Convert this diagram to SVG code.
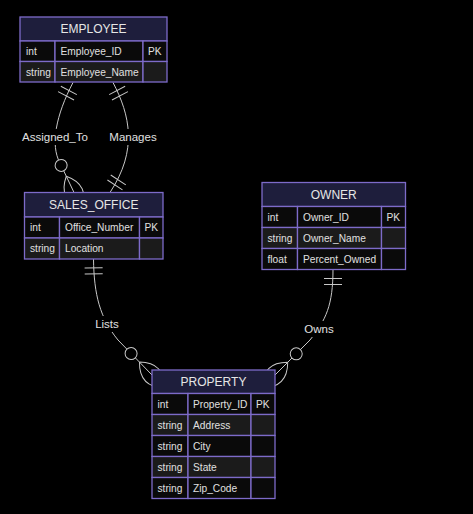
<svg xmlns="http://www.w3.org/2000/svg" width="473" height="514" viewBox="0 0 473 514">
<defs>
<style>
.bg{fill:#000}
.hdr{fill:#1e1e3c;stroke:#7d6bc9;stroke-width:1.3}
.odd{fill:#0a0a0a;stroke:#7d6bc9;stroke-width:1.3}
.even{fill:#1b1b1b;stroke:#7d6bc9;stroke-width:1.3}
.ht{font-family:"Liberation Sans",Arial,sans-serif;font-size:12px;fill:#e6e6e6;text-anchor:middle}
.rt{font-family:"Liberation Sans",Arial,sans-serif;font-size:10.2px;fill:#e0e0e0}
.edge{fill:none;stroke:#c8c8c8;stroke-width:1}
.mk{fill:none;stroke:#c8c8c8;stroke-width:1}
.mkc{fill:#000;stroke:#c8c8c8;stroke-width:1}
.lbl{font-family:"Liberation Sans",Arial,sans-serif;font-size:11.5px;fill:#e0e0e0;text-anchor:middle}
</style>
<marker id="oneStart" markerUnits="userSpaceOnUse" refX="0" refY="9" markerWidth="18" markerHeight="18" orient="auto" overflow="visible">
<path class="mk" d="M9,0 L9,18 M15,0 L15,18"/>
</marker>
<marker id="oneEnd" markerUnits="userSpaceOnUse" refX="18" refY="9" markerWidth="18" markerHeight="18" orient="auto" overflow="visible">
<path class="mk" d="M3,0 L3,18 M9,0 L9,18"/>
</marker>
<marker id="zeroManyEnd" markerUnits="userSpaceOnUse" refX="39" refY="18" markerWidth="57" markerHeight="36" orient="auto" overflow="visible">
<circle class="mkc" cx="9" cy="18" r="6"/>
<path class="mk" d="M21,18 Q39,0 57,18 Q39,36 21,18"/>
</marker>
</defs>
<rect class="bg" x="0" y="0" width="473" height="514"/>
<g id="connectors">
<path id="e-assigned" class="edge" d="M73,82.5 C56,115 50,145 60,163 L74,192.5" marker-start="url(#oneStart)" marker-end="url(#zeroManyEnd)"/>
<path id="e-manages" class="edge" d="M113,82.5 C130,115 138,150 110,192.5" marker-start="url(#oneStart)" marker-end="url(#oneEnd)"/>
<path id="e-lists" class="edge" d="M93.5,259 C94,295 100,318 118,340 L152,375" marker-start="url(#oneStart)" marker-end="url(#zeroManyEnd)"/>
<path id="e-owns" class="edge" d="M333,269.5 C333,305 326,320 310,340 L275,375" marker-start="url(#oneStart)" marker-end="url(#zeroManyEnd)"/>
<g id="labels">
<rect class="bg" x="20" y="129" width="70" height="16"/>
<text class="lbl" x="55" y="141">Assigned_To</text>
<rect class="bg" x="108" y="129" width="50" height="16"/>
<text class="lbl" x="133" y="141">Manages</text>
<rect class="bg" x="93" y="316" width="28" height="16"/>
<text class="lbl" x="107" y="328">Lists</text>
<rect class="bg" x="303" y="321" width="32" height="16"/>
<text class="lbl" x="319" y="333">Owns</text>
</g>
</g>
<g id="EMPLOYEE">
<rect class="hdr" x="20" y="17" width="147" height="24"/>
<text class="ht" x="93.5" y="33.2">EMPLOYEE</text>
<rect class="odd" x="20" y="41" width="35" height="20.5"/>
<rect class="odd" x="55" y="41" width="88" height="20.5"/>
<rect class="odd" x="143" y="41" width="24" height="20.5"/>
<rect class="even" x="20" y="61.5" width="35" height="20.5"/>
<rect class="even" x="55" y="61.5" width="88" height="20.5"/>
<rect class="even" x="143" y="61.5" width="24" height="20.5"/>
<text class="rt" x="26" y="55">int</text>
<text class="rt" x="60.5" y="55">Employee_ID</text>
<text class="rt" x="148" y="55">PK</text>
<text class="rt" x="26" y="75.5">string</text>
<text class="rt" x="60.5" y="75.5">Employee_Name</text>
</g>
<g id="SALES_OFFICE">
<rect class="hdr" x="24.5" y="192.5" width="138.5" height="24.5"/>
<text class="ht" x="93.75" y="209">SALES_OFFICE</text>
<rect class="odd" x="24.5" y="217" width="35" height="21"/>
<rect class="odd" x="59.5" y="217" width="80" height="21"/>
<rect class="odd" x="139.5" y="217" width="23.5" height="21"/>
<rect class="even" x="24.5" y="238" width="35" height="21"/>
<rect class="even" x="59.5" y="238" width="80" height="21"/>
<rect class="even" x="139.5" y="238" width="23.5" height="21"/>
<text class="rt" x="30" y="231.3">int</text>
<text class="rt" x="65" y="231.3">Office_Number</text>
<text class="rt" x="144.5" y="231.3">PK</text>
<text class="rt" x="30" y="252.3">string</text>
<text class="rt" x="65" y="252.3">Location</text>
</g>
<g id="OWNER">
<rect class="hdr" x="262" y="182.5" width="143.5" height="24"/>
<text class="ht" x="333.75" y="198.7">OWNER</text>
<rect class="odd" x="262" y="206.5" width="35.5" height="21"/>
<rect class="odd" x="297.5" y="206.5" width="84" height="21"/>
<rect class="odd" x="381.5" y="206.5" width="24" height="21"/>
<rect class="even" x="262" y="227.5" width="35.5" height="21"/>
<rect class="even" x="297.5" y="227.5" width="84" height="21"/>
<rect class="even" x="381.5" y="227.5" width="24" height="21"/>
<rect class="odd" x="262" y="248.5" width="35.5" height="21"/>
<rect class="odd" x="297.5" y="248.5" width="84" height="21"/>
<rect class="odd" x="381.5" y="248.5" width="24" height="21"/>
<text class="rt" x="267.5" y="220.8">int</text>
<text class="rt" x="303" y="220.8">Owner_ID</text>
<text class="rt" x="386.5" y="220.8">PK</text>
<text class="rt" x="267.5" y="241.8">string</text>
<text class="rt" x="303" y="241.8">Owner_Name</text>
<text class="rt" x="267.5" y="262.8">float</text>
<text class="rt" x="303" y="262.8">Percent_Owned</text>
</g>
<g id="PROPERTY">
<rect class="hdr" x="152" y="370" width="123" height="23.5"/>
<text class="ht" x="213.5" y="386">PROPERTY</text>
<rect class="odd" x="152" y="393.5" width="36" height="21"/>
<rect class="odd" x="188" y="393.5" width="63" height="21"/>
<rect class="odd" x="251" y="393.5" width="24" height="21"/>
<rect class="even" x="152" y="414.5" width="36" height="21"/>
<rect class="even" x="188" y="414.5" width="63" height="21"/>
<rect class="even" x="251" y="414.5" width="24" height="21"/>
<rect class="odd" x="152" y="435.5" width="36" height="21"/>
<rect class="odd" x="188" y="435.5" width="63" height="21"/>
<rect class="odd" x="251" y="435.5" width="24" height="21"/>
<rect class="even" x="152" y="456.5" width="36" height="21"/>
<rect class="even" x="188" y="456.5" width="63" height="21"/>
<rect class="even" x="251" y="456.5" width="24" height="21"/>
<rect class="odd" x="152" y="477.5" width="36" height="21"/>
<rect class="odd" x="188" y="477.5" width="63" height="21"/>
<rect class="odd" x="251" y="477.5" width="24" height="21"/>
<text class="rt" x="157.5" y="407.8">int</text>
<text class="rt" x="193" y="407.8">Property_ID</text>
<text class="rt" x="256" y="407.8">PK</text>
<text class="rt" x="157.5" y="428.8">string</text>
<text class="rt" x="193" y="428.8">Address</text>
<text class="rt" x="157.5" y="449.8">string</text>
<text class="rt" x="193" y="449.8">City</text>
<text class="rt" x="157.5" y="470.8">string</text>
<text class="rt" x="193" y="470.8">State</text>
<text class="rt" x="157.5" y="491.8">string</text>
<text class="rt" x="193" y="491.8">Zip_Code</text>
</g>
</svg>
